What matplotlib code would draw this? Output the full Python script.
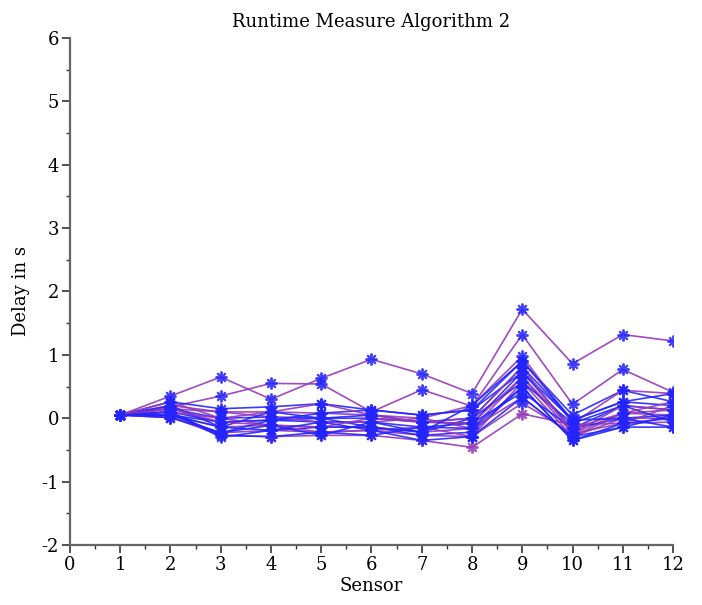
import matplotlib
matplotlib.use("Agg")
import matplotlib.pyplot as plt
from matplotlib.ticker import MultipleLocator

plt.rcParams['font.family'] = ['DejaVu Serif']
plt.rcParams['axes.unicode_minus'] = False

sensors = [1, 2, 3, 4, 5, 6, 7, 8, 9, 10, 11, 12]

# delay per run (s), one list per run
run_01 = [0.05, 0.35, 0.65, 0.30, 0.63, 0.93, 0.70, 0.39, 1.72, 0.86, 1.32, 1.22]
run_02 = [0.05, 0.18, 0.35, 0.55, 0.54, 0.10, 0.45, 0.19, 1.32, 0.22, 0.77, 0.41]
run_03 = [0.05, 0.26, 0.15, 0.18, 0.23, 0.13, 0.05, 0.13, 0.90, 0.05, 0.44, 0.26]
run_04 = [0.05, 0.20, 0.10, 0.10, 0.08, 0.05, 0.00, 0.20, 0.98, -0.08, 0.44, 0.39]
run_05 = [0.05, 0.15, 0.00, 0.02, 0.00, 0.00, -0.06, 0.00, 0.81, -0.03, 0.26, 0.20]
run_06 = [0.05, 0.10, -0.06, -0.03, -0.06, -0.06, -0.14, -0.08, 0.73, -0.16, 0.20, 0.13]
run_07 = [0.05, 0.05, -0.14, -0.11, -0.14, -0.14, -0.22, -0.16, 0.65, -0.24, 0.08, 0.05]
run_08 = [0.05, 0.01, -0.23, -0.19, -0.22, -0.19, -0.27, -0.29, 0.57, -0.29, 0.00, 0.00]
run_09 = [0.05, 0.02, -0.27, -0.29, -0.27, -0.27, -0.35, -0.46, 0.07, -0.10, -0.08, -0.06]
run_10 = [0.05, 0.10, -0.30, -0.19, -0.14, -0.14, -0.27, -0.22, 0.49, -0.35, -0.14, -0.14]
run_11 = [0.05, 0.05, -0.06, -0.03, 0.00, 0.05, -0.06, -0.08, 0.41, -0.16, 0.00, 0.05]
run_12 = [0.05, 0.15, 0.10, 0.02, -0.06, -0.06, 0.00, -0.16, 0.33, -0.29, 0.08, 0.13]
run_13 = [0.05, 0.10, 0.00, -0.11, -0.22, -0.19, -0.14, -0.29, 0.24, -0.24, -0.08, 0.20]
run_14 = [0.05, 0.05, -0.23, -0.03, 0.08, 0.13, 0.05, 0.13, 0.73, -0.03, 0.26, 0.39]
run_15 = [0.05, 0.20, -0.14, 0.10, 0.00, -0.14, -0.22, 0.00, 0.57, -0.08, 0.20, -0.06]
run_16 = [0.05, 0.15, -0.06, -0.11, -0.14, 0.00, -0.06, -0.08, 0.65, -0.16, 0.08, 0.26]
run_17 = [0.05, 0.10, -0.27, -0.29, -0.22, -0.27, -0.14, -0.16, 0.49, -0.35, -0.08, 0.00]
run_18 = [0.05, 0.26, 0.00, 0.10, 0.23, 0.05, -0.06, 0.00, 0.81, -0.24, 0.20, 0.13]
run_19 = [0.05, 0.05, -0.14, -0.19, -0.06, -0.19, -0.35, -0.29, 0.33, -0.29, -0.14, 0.05]
run_20 = [0.05, 0.01, -0.23, -0.11, -0.27, -0.06, -0.22, 0.20, 0.90, -0.03, 0.00, -0.14]

runs = [run_01, run_02, run_03, run_04, run_05, run_06, run_07, run_08, run_09, run_10,
        run_11, run_12, run_13, run_14, run_15, run_16, run_17, run_18, run_19, run_20]
# 'p' = purple line, 'b' = blue line
line_kind = ['p', 'p', 'b', 'p', 'b', 'b', 'p', 'p', 'p', 'b',
             'b', 'p', 'p', 'b', 'b', 'p', 'b', 'p', 'b', 'b']

BLUE = '#2424ff'
PURPLE = '#9438b8'

fig = plt.figure(figsize=(7.02, 6.05), dpi=100)
ax = fig.add_axes([0.0997, 0.0992, 0.8590, 0.8380])

for run, kind in zip(runs, line_kind):
    lc = PURPLE if kind == 'p' else BLUE
    ax.plot(sensors, run, color=lc, lw=1.2, alpha=0.9, zorder=2)
for run, kind in zip(runs, line_kind):
    mc = PURPLE if run is run_09 else BLUE
    ax.plot(sensors, run, ls='none', marker=(8, 2, 0), ms=8.5, mew=1.4,
            color=mc, alpha=0.85, zorder=3)

ax.set_xlim(0, 12)
ax.set_ylim(-2, 6)
ax.xaxis.set_major_locator(MultipleLocator(1))
ax.xaxis.set_minor_locator(MultipleLocator(0.5))
ax.yaxis.set_major_locator(MultipleLocator(1))
ax.yaxis.set_minor_locator(MultipleLocator(0.5))

for side in ['top', 'right']:
    ax.spines[side].set_visible(False)
for side in ['left', 'bottom']:
    ax.spines[side].set_color('#666666')
    ax.spines[side].set_linewidth(1.6)

ax.tick_params(which='major', direction='out', length=6, width=1.2, color='#333333',
               labelsize=13, pad=2)
ax.tick_params(which='minor', direction='out', length=3, width=1.0, color='#333333')

ax.set_title('Runtime Measure Algorithm 2', fontsize=13, pad=8)
ax.set_xlabel('Sensor', fontsize=13, labelpad=2)
ax.set_ylabel('Delay in s', fontsize=13, labelpad=8)

fig.savefig('out.png', dpi=100)
